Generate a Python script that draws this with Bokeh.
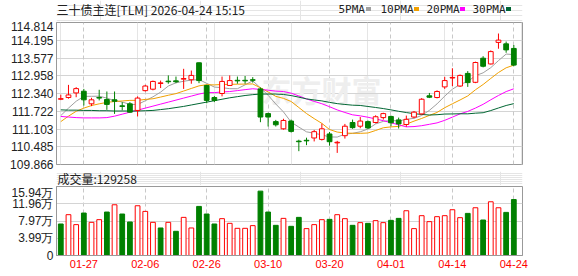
from bokeh.plotting import figure
from bokeh.models import Range1d, FixedTicker, PrintfTickFormatter, Label, Grid, ColumnDataSource
from bokeh.core.properties import value
from bokeh.layouts import column
from bokeh.embed import file_html
from bokeh.resources import INLINE

title_text = "三十债主连[TLM] 2026-04-24 15:15"

dates = ["01-22", "01-23", "01-26", "01-27", "01-28", "01-29", "01-30", "02-02", "02-03", "02-04",
         "02-05", "02-06", "02-09", "02-10", "02-11", "02-12", "02-13", "02-24", "02-25", "02-26",
         "02-27", "03-02", "03-03", "03-04", "03-05", "03-06", "03-09", "03-10", "03-11", "03-12",
         "03-13", "03-16", "03-17", "03-18", "03-19", "03-20", "03-23", "03-24", "03-25", "03-26",
         "03-27", "03-30", "03-31", "04-01", "04-02", "04-03", "04-07", "04-08", "04-09", "04-10",
         "04-13", "04-14", "04-15", "04-16", "04-17", "04-20", "04-21", "04-22", "04-23", "04-24"]

shown_dates = ["01-27", "02-06", "02-26", "03-10", "03-20", "04-01", "04-14", "04-24"]

opens = [112.14, 112.20, 112.36, 112.42, 111.98, 112.20, 112.13, 112.12, 111.91, 111.98,
         111.75, 112.44, 112.49, 112.69, 112.77, 112.78, 112.84, 112.82, 113.41, 112.62,
         112.20, 112.34, 112.62, 112.80, 112.80, 112.82, 112.50, 111.64, 111.36, 111.11,
         111.38, 110.68, 110.71, 110.79, 110.74, 110.93, 110.62, 110.87, 111.33, 111.20,
         111.36, 111.33, 111.50, 111.54, 111.42, 111.26, 111.52, 111.63, 112.26, 112.20,
         112.57, 112.88, 112.60, 113.04, 112.73, 113.57, 113.37, 114.12, 114.07, 113.91]
highs = [112.30, 112.64, 112.56, 112.50, 112.19, 112.47, 112.41, 112.41, 112.04, 112.04,
         112.24, 112.64, 112.79, 112.79, 112.97, 112.93, 113.20, 113.14, 113.42, 112.64,
         112.25, 112.93, 112.97, 112.93, 112.95, 112.91, 112.55, 111.67, 111.42, 111.46,
         111.43, 110.73, 110.80, 111.07, 111.29, 111.00, 110.69, 111.28, 111.43, 111.52,
         111.40, 111.58, 111.67, 111.57, 111.50, 111.57, 111.73, 112.18, 112.36, 112.45,
         112.92, 113.22, 113.00, 113.12, 113.45, 113.64, 113.84, 114.43, 114.15, 114.03]
lows = [112.11, 112.16, 112.21, 111.92, 111.90, 112.10, 111.77, 111.63, 111.75, 111.67,
        111.54, 112.41, 112.45, 112.53, 112.68, 112.70, 112.50, 112.68, 112.70, 112.00,
        112.04, 112.24, 112.62, 112.68, 112.68, 112.72, 111.34, 111.19, 111.19, 111.08,
        110.98, 110.33, 110.54, 110.67, 110.70, 110.52, 110.27, 110.77, 111.11, 111.13,
        111.11, 111.30, 111.43, 111.20, 111.12, 111.18, 111.48, 111.60, 112.18, 112.17,
        112.50, 112.60, 112.57, 112.57, 112.70, 113.25, 113.35, 113.90, 113.76, 113.29]
closes = [112.16, 112.29, 112.51, 112.12, 112.12, 112.18, 111.96, 112.07, 111.89, 111.69,
          112.18, 112.60, 112.76, 112.71, 112.75, 112.75, 112.86, 112.97, 112.79, 112.10,
          112.10, 112.76, 112.79, 112.78, 112.78, 112.80, 111.52, 111.52, 111.25, 111.40,
          111.02, 110.66, 110.69, 111.01, 111.11, 110.66, 110.64, 111.20, 111.15, 111.38,
          111.14, 111.53, 111.64, 111.32, 111.28, 111.44, 111.69, 112.14, 112.21, 112.41,
          112.79, 112.90, 112.97, 112.72, 113.42, 113.29, 113.80, 114.20, 113.86, 113.33]

ma5 = [111.57, 111.83, 112.07, 112.24, 112.242, 112.246, 112.179, 112.09, 112.044, 111.958,
       111.958, 112.086, 112.224, 112.388, 112.60, 112.714, 112.766, 112.808, 112.824, 112.694,
       112.564, 112.544, 112.508, 112.506, 112.642, 112.782, 112.534, 112.28, 111.974, 111.698,
       111.342, 111.17, 111.004, 110.956, 110.898, 110.826, 110.822, 110.924, 110.952, 111.006,
       111.102, 111.28, 111.368, 111.402, 111.382, 111.442, 111.474, 111.574, 111.752, 111.978,
       112.248, 112.49, 112.656, 112.758, 112.96, 113.06, 113.24, 113.486, 113.714, 113.696]
ma10 = [111.36, 111.55, 111.72, 111.83, 111.92, 111.98, 112.03, 112.06, 112.08, 112.10,
        112.102, 112.133, 112.157, 112.216, 112.279, 112.336, 112.426, 112.516, 112.606, 112.647,
        112.639, 112.655, 112.658, 112.665, 112.668, 112.673, 112.539, 112.394, 112.24, 112.17,
        112.062, 111.852, 111.642, 111.465, 111.298, 111.084, 110.996, 110.964, 110.954, 110.952,
        110.964, 111.051, 111.146, 111.177, 111.194, 111.272, 111.377, 111.471, 111.577, 111.68,
        111.845, 111.982, 112.115, 112.255, 112.469, 112.654, 112.865, 113.071, 113.236, 113.328]
ma20 = [111.54, 111.52, 111.50, 111.49, 111.49, 111.49, 111.50, 111.55, 111.62, 111.69,
        111.76, 111.83, 111.90, 111.97, 112.04, 112.11, 112.18, 112.25, 112.32, 112.374,
        112.371, 112.394, 112.408, 112.441, 112.474, 112.505, 112.483, 112.455, 112.423, 112.409,
        112.351, 112.254, 112.15, 112.065, 111.983, 111.879, 111.768, 111.679, 111.597, 111.561,
        111.513, 111.452, 111.394, 111.321, 111.246, 111.178, 111.187, 111.218, 111.266, 111.316,
        111.405, 111.517, 111.631, 111.716, 111.832, 111.963, 112.121, 112.271, 112.407, 112.504]
ma30 = [111.77, 111.76, 111.76, 111.75, 111.75, 111.74, 111.74, 111.73, 111.73, 111.73,
        111.73, 111.74, 111.75, 111.78, 111.81, 111.85, 111.89, 111.94, 111.99, 112.04,
        112.09, 112.14, 112.19, 112.23, 112.27, 112.30, 112.32, 112.32, 112.32, 112.306,
        112.268, 112.213, 112.152, 112.115, 112.082, 112.031, 111.987, 111.958, 111.933, 111.923,
        111.888, 111.853, 111.815, 111.769, 111.72, 111.676, 111.637, 111.61, 111.59, 111.601,
        111.624, 111.628, 111.634, 111.632, 111.654, 111.67, 111.746, 111.835, 111.922, 111.987]

volumes = [72800, 94300, 71300, 98100, 76600, 82800, 100400, 117200, 95800, 77400,
           114900, 101900, 76600, 63600, 76600, 55900, 88100, 63600, 113400, 95800,
           72800, 85100, 74300, 62800, 62800, 69000, 148700, 100400, 69700, 85800,
           67400, 88100, 62100, 71300, 82800, 83500, 94300, 85100, 69700, 75900,
           74300, 80500, 75900, 81200, 85800, 103400, 62100, 92000, 78200, 89700,
           92000, 105700, 87400, 97300, 110300, 82000, 124100, 110300, 99600, 129258]
vol_up = [0, 1, 1, 0, 1, 1, 0, 1, 0, 0,
          1, 1, 1, 0, 1, 0, 1, 1, 0, 0,
          0, 1, 1, 1, 1, 1, 0, 0, 0, 1,
          0, 0, 1, 1, 1, 0, 1, 1, 0, 1,
          0, 1, 1, 0, 0, 1, 1, 1, 1, 1,
          1, 1, 1, 0, 1, 0, 1, 1, 0, 0]

price_ticks = [109.866, 110.485, 111.103, 111.722, 112.340, 112.958, 113.577, 114.195, 114.814]
vol_ticks = [0, 39850, 79700, 119550, 159400]
vol_tick_labels = ["0", "3.99万", "7.97万", "11.96万", "15.94万"]

ma_names = ["5PMA", "10PMA", "20PMA", "30PMA"]
ma_colors = ["#a0a0a0", "#f0a000", "#ff00ff", "#006633"]

RED = "#ff0000"
GREEN = "#008000"
GRID = "#d4d4d4"
BORDER = "#999999"
TXT = "#222222"
W = 578
LB, RB = 56, 56   # left / right borders of every panel

n = len(dates)
idx = list(range(n))
label_pos = [dates.index(d) for d in shown_dates]
is_up = [c >= o for o, c in zip(opens, closes)]

csrc = ColumnDataSource(dict(
    x=idx, h=highs, l=lows,
    top=[max(o, c) for o, c in zip(opens, closes)],
    bot=[min(o, c) for o, c in zip(opens, closes)],
    lc=[RED if u else GREEN for u in is_up],
    fc=["white" if u else GREEN for u in is_up],
))
vsrc = ColumnDataSource(dict(
    x=idx, v=volumes,
    lc=[RED if u else GREEN for u in vol_up],
    fc=["white" if u else GREEN for u in vol_up],
))

xr = Range1d(-0.56, n + 0.13)


def strip(height):
    # frame aligned with the panels below; x data units equal canvas pixels
    f = figure(width=W, height=height, x_range=Range1d(LB, W - RB), y_range=Range1d(height, 0),
               output_backend="svg", toolbar_location=None,
               x_axis_location=None, y_axis_location=None,
               min_border_left=LB, min_border_right=RB, min_border_top=0, min_border_bottom=0)
    f.outline_line_color = None
    f.background_fill_color = "white"
    f.border_fill_color = "white"
    return f


# ---------- header strip (title + MA legend) ----------
p0 = strip(21)
p0.text(x=[56], y=[9], text=[title_text], text_font=value("Noto Sans CJK SC"),
        text_font_size=value("12px"), text_color=TXT, text_baseline="middle", text_align="left")
leg_text_x = [338, 380, 426, 472]
leg_mark_x = [368, 416, 462, 508]
p0.text(x=leg_text_x, y=[9] * 4, text=ma_names, text_font=value("DejaVu Sans Mono"),
        text_font_size=value("11px"), text_color=TXT, text_baseline="middle", text_align="left")
p0.rect(x=leg_mark_x, y=[8.5] * 4, width=5, height=4, fill_color=ma_colors, line_color=None)

# ---------- price panel ----------
p1 = figure(width=W, height=150, x_range=xr,
            y_range=Range1d(price_ticks[0], price_ticks[-1]),
            output_backend="svg", toolbar_location=None, x_axis_location=None,
            min_border_left=LB, min_border_right=RB, min_border_top=1, min_border_bottom=7)
p1.background_fill_color = "white"
p1.border_fill_color = "white"
p1.outline_line_color = BORDER
p1.yaxis.ticker = FixedTicker(ticks=price_ticks)
p1.yaxis.formatter = PrintfTickFormatter(format="%.3f")
p1.yaxis.major_tick_out = 0
p1.yaxis.major_tick_in = 0
p1.yaxis.minor_tick_out = 0
p1.yaxis.minor_tick_in = 0
p1.yaxis.axis_line_color = BORDER
p1.yaxis.major_label_standoff = 3
p1.yaxis.major_label_text_font = "Liberation Sans"
p1.yaxis.major_label_text_font_size = "12px"
p1.yaxis.major_label_text_color = TXT
p1.ygrid.grid_line_color = GRID
p1.ygrid.ticker = FixedTicker(ticks=price_ticks)
p1.add_layout(Grid(dimension=0, ticker=FixedTicker(ticks=label_pos),
                   grid_line_color="#c8c8c8", grid_line_dash="4 3"))

p1.add_layout(Label(x=205, y=76, x_units="screen", y_units="screen", text="东方财富",
                    text_font="Noto Sans CJK SC", text_font_size="30px", text_font_style="bold",
                    text_color="#eeeeee", text_baseline="middle", level="underlay"))

for ma, col in zip([ma5, ma10, ma20, ma30], ma_colors):
    p1.line(idx, ma, line_color=col, line_width=1)

p1.segment(x0="x", y0="h", x1="x", y1="l", line_color="lc", line_width=1, source=csrc)
p1.vbar(x="x", width=0.62, top="top", bottom="bot", fill_color="fc", line_color="lc",
        line_width=1, source=csrc)

# ---------- middle strip (volume caption) ----------
pm = strip(14)
pm.text(x=[57], y=[6.5], text=["成交量:" + str(volumes[-1])], text_font=value("Noto Sans CJK SC"),
        text_font_size=value("12px"), text_color=TXT, text_baseline="middle", text_align="left")

# ---------- volume panel ----------
p2 = figure(width=W, height=91, x_range=xr, y_range=Range1d(vol_ticks[0], vol_ticks[-1]),
            output_backend="svg", toolbar_location=None,
            min_border_left=LB, min_border_right=RB, min_border_top=1, min_border_bottom=21)
p2.background_fill_color = "white"
p2.border_fill_color = "white"
p2.outline_line_color = BORDER
p2.yaxis.ticker = FixedTicker(ticks=vol_ticks)
p2.yaxis.major_label_overrides = {t: s for t, s in zip(vol_ticks, vol_tick_labels)}
p2.yaxis.major_tick_out = 0
p2.yaxis.major_tick_in = 0
p2.yaxis.minor_tick_out = 0
p2.yaxis.minor_tick_in = 0
p2.yaxis.axis_line_color = BORDER
p2.yaxis.major_label_standoff = 3
p2.yaxis.major_label_text_font = "Liberation Sans"
p2.yaxis.major_label_text_font_size = "12px"
p2.yaxis.major_label_text_color = TXT
p2.ygrid.ticker = FixedTicker(ticks=vol_ticks)
p2.ygrid.grid_line_color = GRID

p2.xaxis.ticker = FixedTicker(ticks=label_pos)
p2.xaxis.major_label_overrides = {i: dates[i] for i in label_pos}
p2.xaxis.major_tick_out = 0
p2.xaxis.major_tick_in = 0
p2.xaxis.minor_tick_out = 0
p2.xaxis.minor_tick_in = 0
p2.xaxis.axis_line_color = BORDER
p2.xaxis.major_label_standoff = 4
p2.xaxis.major_label_text_font = "Liberation Sans"
p2.xaxis.major_label_text_font_size = "11px"
p2.xaxis.major_label_text_color = RED
p2.xgrid.ticker = FixedTicker(ticks=label_pos)
p2.xgrid.grid_line_color = "#c8c8c8"
p2.xgrid.grid_line_dash = "4 3"

p2.vbar(x="x", width=0.62, top="v", bottom=0, fill_color="fc", line_color="lc",
        line_width=1, source=vsrc)

layout = column(p0, p1, pm, p2, spacing=0)
open("out.html", "w").write(file_html(layout, INLINE))
